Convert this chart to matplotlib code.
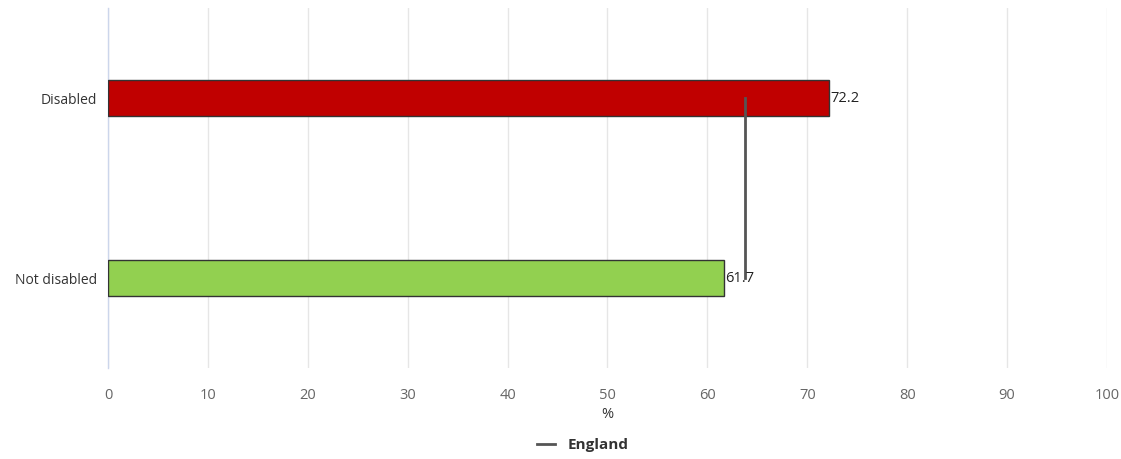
import matplotlib.pyplot as plt

categories = ['Disabled', 'Not disabled']
values = [72.2, 61.7]
bar_colors = ['#c00000', '#92d050']
england = 63.8
x_ticks = [0, 10, 20, 30, 40, 50, 60, 70, 80, 90, 100]

plt.rcParams['font.family'] = ['Open Sans', 'DejaVu Sans']

fig = plt.figure(figsize=(11.21, 4.59), dpi=100)
ax = fig.add_axes([0.0963, 0.198, 0.8912, 0.7846])

ypos = list(range(len(categories)))
ax.barh(ypos, values, height=0.2, color=bar_colors, edgecolor='#333333', linewidth=1, zorder=3)
for y, v in zip(ypos, values):
    ax.text(v + 0.1, y, f'{v}', va='center', ha='left', fontsize=10.5, color='#222222', zorder=5)

ax.plot([england, england], ypos, color='#555555', linewidth=2, zorder=4, label='England')

ax.set_xlim(0, 100)
ax.set_ylim(1.5, -0.5)
ax.set_yticks(ypos)
ax.set_yticklabels(categories, fontsize=10, color='#333333')
ax.set_xticks(x_ticks)
ax.set_xticklabels([str(t) for t in x_ticks], fontsize=10.5, color='#666666')
ax.tick_params(axis='both', length=0, pad=8)
ax.tick_params(axis='x', pad=14)
ax.set_xlabel('%', fontsize=10.5, color='#333333', labelpad=3)

ax.grid(axis='x', color='#e6e6e6', linewidth=1, zorder=0)
for s in ['top', 'right', 'bottom']:
    ax.spines[s].set_visible(False)
ax.spines['left'].set_color('#ccd6eb')
ax.spines['left'].set_linewidth(1)

leg = fig.legend(loc='lower center', bbox_to_anchor=(0.52, -0.015), frameon=False,
                 prop={'weight': 'bold', 'size': 11}, handlelength=1.2)
for t in leg.get_texts():
    t.set_color('#333333')

fig.savefig('out.png', dpi=100)
